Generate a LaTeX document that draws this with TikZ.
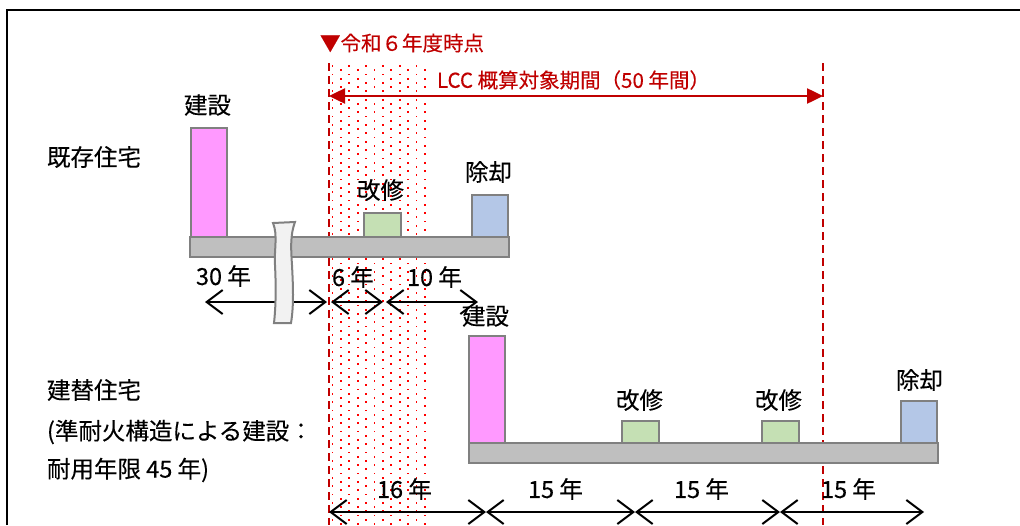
\documentclass[tikz,border=0pt]{standalone}
\usepackage{fontspec}
\setmainfont{Noto Sans CJK JP}[FakeBold=0.2]
\usetikzlibrary{arrows.meta}
\definecolor{darkred}{HTML}{C00000}
\definecolor{dotred}{HTML}{FF0000}
\definecolor{pinkfill}{HTML}{FF99FF}
\definecolor{greenfill}{HTML}{C5E0B4}
\definecolor{bluefill}{HTML}{B4C7E7}
\definecolor{barfill}{HTML}{BFBFBF}
\definecolor{bordergray}{HTML}{808080}
\definecolor{breakfill}{HTML}{F2F2F2}
\begin{document}
\begin{tikzpicture}[x=1pt,y=-1pt,
  lbl/.style={anchor=west, inner sep=0pt, outer sep=0pt, font=\fontsize{23.5}{28}\selectfont},
  redlbl/.style={lbl, text=darkred, font=\fontsize{20.5}{24}\selectfont},
  boxbase/.style={draw=bordergray, line width=2pt, inner sep=0pt, outer sep=0pt, anchor=north west},
  pinkbox/.style={boxbase, fill=pinkfill},
  greenbox/.style={boxbase, fill=greenfill},
  bluebox/.style={boxbase, fill=bluefill},
  barbox/.style={boxbase, fill=barfill},
  reddash/.style={draw=darkred, line width=2.5pt, dash pattern=on 8pt off 5pt},
  dimarrow/.style={draw=black, line width=2pt, {Straight Barb[length=16pt,width=24pt]}-{Straight Barb[length=16pt,width=24pt]}},
  lccarrow/.style={draw=darkred, line width=2.5pt, {Triangle[length=16pt,width=15pt]}-{Triangle[length=16pt,width=15pt]}}
]
\useasboundingbox (0,0) rectangle (1020,525);
\fill[white] (0,0) rectangle (1020,525);

% frame
\draw[line width=2pt] (7,525) -- (7,10) -- (1020,10);

% dotted period (R6 to +10 years)
\foreach \c in {0,...,11}{
  \pgfmathsetmacro{\xx}{332.5+8.4*\c}
  \pgfmathsetmacro{\off}{mod(\c,2)*4.2}
  \foreach \r in {0,...,55}{
    \fill[dotred] ({\xx-0.9},{66+\off+8.4*\r-0.9}) rectangle ++(1.8,1.8);
  }
}

% red dashed lines
\coordinate (r6top) at (329,63);
\coordinate (r6bot) at (329,525);
\coordinate (endtop) at (823,63);
\coordinate (endbot) at (823,525);
\draw[reddash] (r6top) -- (r6bot);
\draw[reddash] (endtop) -- (endbot);

% red labels and LCC arrow
\node[redlbl] (r6lbl) at (320,43) {▼令和６年度時点};
\node[redlbl] (lcclbl) at (437,80) {LCC 概算対象期間（50 年間）};
\coordinate (lccL) at (329,96);
\coordinate (lccR) at (823,96);
\draw[lccarrow] (lccL) -- (lccR);

% existing house
\node[lbl] (exlbl) at (47,157) {既存住宅};
\node[pinkbox, minimum width=36pt, minimum height=109pt] (expink) at (191,128) {};
\node[greenbox, minimum width=37pt, minimum height=24pt] (exgreen) at (364,213) {};
\node[bluebox, minimum width=36pt, minimum height=42pt] (exblue) at (472,195) {};
\node[barbox, minimum width=319pt, minimum height=20pt] (exbar) at (190,237) {};
\node[lbl] (exbuild) at (184,105) {建設};
\node[lbl] (exrepair) at (357,190) {改修};
\node[lbl] (exdemo) at (465,172) {除却};

% existing house dimensions
\node[lbl] (d30) at (196,276) {30 年};
\node[lbl] (d6) at (332,277) {6 年};
\node[lbl] (d10) at (407,277) {10 年};
\coordinate (a0) at (205,302);
\coordinate (a1) at (327,302);
\coordinate (a2) at (331,302);
\coordinate (a3) at (383,302);
\coordinate (a4) at (386,302);
\coordinate (a5) at (478,302);
\draw[dimarrow] (a0) -- (a1);
\draw[dimarrow] (a2) -- (a3);
\draw[dimarrow] (a4) -- (a5);

% break mark
\draw[draw=bordergray, fill=breakfill, line width=2pt]
  (273,223) .. controls (278,235) and (274,250) .. (275,265)
  .. controls (276,285) and (276,305) .. (274,323)
  -- (291,323)
  .. controls (294,305) and (293,285) .. (292,265)
  .. controls (291,250) and (290,235) .. (295,222) -- cycle;

% replacement house
\node[lbl] (rplbl1) at (47,390) {建替住宅};
\node[lbl] (rplbl2) at (47,432) {(準耐火構造による建設：};
\node[lbl] (rplbl3) at (47,470) {耐用年限 45 年)};
\node[pinkbox, minimum width=36pt, minimum height=107pt] (rppink) at (469,336) {};
\node[greenbox, minimum width=37pt, minimum height=22pt] (rpgreen1) at (622,421) {};
\node[greenbox, minimum width=37pt, minimum height=22pt] (rpgreen2) at (762,421) {};
\node[bluebox, minimum width=36pt, minimum height=42pt] (rpblue) at (901,401) {};
\node[barbox, minimum width=469pt, minimum height=20pt] (rpbar) at (469,443) {};
\node[lbl] (rpbuild) at (462,316) {建設};
\node[lbl] (rprepair1) at (616,400) {改修};
\node[lbl] (rprepair2) at (755,400) {改修};
\node[lbl] (rpdemo) at (896,380) {除却};

% replacement dimensions
\node[lbl] (d16) at (377,489) {16 年};
\node[lbl] (d15a) at (528,489) {15 年};
\node[lbl] (d15b) at (674,489) {15 年};
\node[lbl] (d15c) at (821,489) {15 年};
\coordinate (b0) at (329,512);
\coordinate (b1) at (486,512);
\coordinate (b2) at (635,512);
\coordinate (b3) at (780,512);
\coordinate (b4) at (924,512);
\draw[dimarrow] (b0) -- (b1);
\draw[dimarrow] (b1) -- (b2);
\draw[dimarrow] (b2) -- (b3);
\draw[dimarrow] (b3) -- (b4);
\end{tikzpicture}
\end{document}
